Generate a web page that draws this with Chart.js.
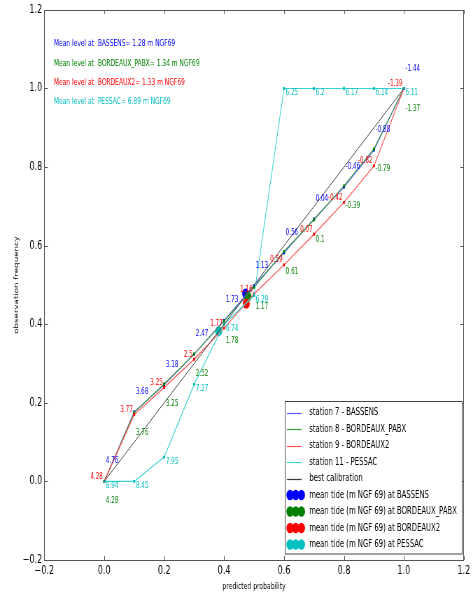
<!DOCTYPE html>
<html><head><meta charset="utf-8">
<script src="https://cdn.jsdelivr.net/npm/chart.js@4/dist/chart.umd.min.js"></script>
<style>
html,body{margin:0;padding:0;overflow:hidden;background:#fff;width:473px;height:593px;}
#wrap{position:absolute;left:0;top:0;width:676px;height:593px;transform:scaleX(0.6997);transform-origin:0 0;}
canvas{display:block;}
</style></head><body>
<div id="wrap"><canvas id="c" width="676" height="593" style="width:676px;height:593px"></canvas></div>
<script>
// ---------- data ----------
const probabilities = [0, 0.1, 0.2, 0.3, 0.4, 0.5, 0.6, 0.7, 0.8, 0.9, 1.0];
const bassensFreq  = [0, 0.177, 0.246, 0.324, 0.41, 0.498, 0.582, 0.668, 0.749, 0.843, 1.0];
const pabxFreq     = [0, 0.175, 0.248, 0.324, 0.408, 0.494, 0.585, 0.666, 0.752, 0.846, 1.0];
const bordeaux2Freq= [0, 0.17, 0.239, 0.311, 0.39, 0.477, 0.551, 0.629, 0.71, 0.803, 1.0];
const pessacFreq   = [0, 0, 0.062, 0.247, 0.40, 0.473, 1.0, 1.0, 1.0, 1.0, 1.0];
const bassensLevels  = ['4.76','3.68','3.18','2.47','1.73','1.13','0.56','0.04','-0.46','-0.88','-1.44'];
const pabxLevels     = ['4.28','3.76','3.25','2.52','1.78','1.17','0.61','0.1','-0.39','-0.79','-1.37'];
const bordeaux2Levels= ['4.28','3.77','3.25','2.5','1.77','1.16','0.59','0.07','-0.42','-0.82','-1.39'];
const pessacLevels   = ['8.94','8.45','7.95','7.27','6.74','6.29','6.25','6.2','6.17','6.14','6.11'];
const calibProb = [0, 1];
const calibFreq = [0, 1];
const stationNames = ['BASSENS', 'BORDEAUX_PABX', 'BORDEAUX2', 'PESSAC'];
const stationNumbers = [7, 8, 9, 11];
const meanLevels = ['1.28', '1.34', '1.33', '6.89'];
const meanProb = [0.472, 0.48, 0.474, 0.382];
const meanFreq = [0.478, 0.47, 0.452, 0.382];
const xTicks = [-0.2, 0, 0.2, 0.4, 0.6, 0.8, 1.0, 1.2];
const yTicks = [-0.2, 0, 0.2, 0.4, 0.6, 0.8, 1.0, 1.2];

// ---------- styles ----------
const colors = ['#0000ff', '#008000', '#ff0000', '#00bfbf'];
const lineColors = ['#5a5aff', '#3a9a3a', '#ff4d4d', '#3fd2d2'];
const FONT = "'DejaVu Sans', sans-serif";
const labelOffsets = [
  {dx: 2.4, dy: -20, align: 'left'},
  {dx: 2.4, dy: 20, align: 'left'},
  {dx: -2, dy: -4.5, align: 'right'},
  {dx: 2.4, dy: 4.5, align: 'left'}
];

const freqs = [bassensFreq, pabxFreq, bordeaux2Freq, pessacFreq];
const levels = [bassensLevels, pabxLevels, bordeaux2Levels, pessacLevels];

const datasets = [];
datasets.push({
  label: 'best calibration', kind: 'line',
  data: calibProb.map((x, i) => ({x, y: calibFreq[i]})),
  showLine: true, borderColor: '#3a3a3a', backgroundColor: '#000000',
  borderWidth: 1, pointRadius: 0, order: 0
});
for (let s = 0; s < 4; s++) {
  datasets.push({
    label: 'station ' + stationNumbers[s] + ' - ' + stationNames[s], kind: 'line', station: s,
    data: probabilities.map((x, i) => ({x, y: freqs[s][i]})),
    showLine: true, borderColor: lineColors[s], backgroundColor: colors[s],
    borderWidth: 1.1, pointStyle: 'rect', pointRadius: 2, pointBorderWidth: 0,
    order: 1 + (3 - s)
  });
}
for (let s = 0; s < 4; s++) {
  datasets.push({
    label: 'mean tide (m NGF 69) at ' + stationNames[s], kind: 'mean', station: s,
    data: [{x: meanProb[s], y: meanFreq[s]}],
    showLine: false, borderColor: colors[s], backgroundColor: colors[s],
    pointStyle: 'circle', pointRadius: 5, borderWidth: 0,
    order: 10 + (3 - s)
  });
}

const fmt = v => { if (Math.abs(v) < 1e-9) v = 0; return (v < 0 ? '\u2212' : '') + Math.abs(v).toFixed(1); };

const extras = {
  id: 'extras',
  afterDatasetsDraw(chart) {
    const ctx = chart.ctx, xs = chart.scales.x, ys = chart.scales.y;
    ctx.save();
    ctx.font = '8px ' + FONT;
    ctx.textBaseline = 'middle';
    for (let s = 0; s < 4; s++) {
      const o = labelOffsets[s];
      ctx.fillStyle = colors[s];
      ctx.textAlign = o.align;
      probabilities.forEach((p, i) => {
        ctx.fillText(levels[s][i], xs.getPixelForValue(p) + o.dx, ys.getPixelForValue(freqs[s][i]) + o.dy);
      });
    }
    ctx.restore();
  },
  afterDraw(chart) {
    const ctx = chart.ctx, a = chart.chartArea, xs = chart.scales.x, ys = chart.scales.y;
    ctx.save();
    // frame
    ctx.strokeStyle = '#555';
    ctx.lineWidth = 1;
    ctx.strokeRect(Math.round(a.left) + 0.5, Math.round(a.top) + 0.5, Math.round(a.right - a.left) - 1, Math.round(a.bottom - a.top));
    // inner ticks
    ctx.beginPath();
    xTicks.forEach(v => {
      const px = Math.round(xs.getPixelForValue(v)) + 0.5;
      ctx.moveTo(px, a.top); ctx.lineTo(px, a.top + 4);
      ctx.moveTo(px, a.bottom); ctx.lineTo(px, a.bottom - 4);
    });
    yTicks.forEach(v => {
      const py = Math.round(ys.getPixelForValue(v)) + 0.5;
      ctx.moveTo(a.left, py); ctx.lineTo(a.left + 5, py);
      ctx.moveTo(a.right, py); ctx.lineTo(a.right - 5, py);
    });
    ctx.stroke();
    // mean level annotations
    ctx.font = '8.5px ' + FONT;
    ctx.textAlign = 'left';
    ctx.textBaseline = 'middle';
    const annY = [44, 63.3, 82.7, 101.7];
    for (let s = 0; s < 4; s++) {
      ctx.fillStyle = colors[s];
      ctx.fillText('Mean level at  ' + stationNames[s] + '= ' + meanLevels[s] + ' m NGF69', 77, annY[s]);
    }
    // legend
    const lx = 407.5, ly = 401.5, lw = 253, lh = 152.5;
    ctx.fillStyle = '#fff';
    ctx.fillRect(lx, ly, lw, lh);
    ctx.strokeStyle = '#444';
    ctx.strokeRect(lx, ly, lw, lh);
    ctx.font = '9.8px ' + FONT;
    ctx.fillStyle = '#000';
    const lineItems = [1, 2, 3, 4, 0].map(i => chart.data.datasets[i]);
    const meanItems = [5, 6, 7, 8].map(i => chart.data.datasets[i]);
    let y = 412.5;
    lineItems.forEach(d => {
      ctx.strokeStyle = d.borderColor;
      ctx.lineWidth = 1.2;
      ctx.beginPath(); ctx.moveTo(410, Math.round(y) + 0.5); ctx.lineTo(431, Math.round(y) + 0.5); ctx.stroke();
      ctx.fillStyle = '#000';
      ctx.fillText(d.label, 442, y);
      y += 16.5;
    });
    meanItems.forEach(d => {
      ctx.fillStyle = d.backgroundColor;
      [414.5, 422.6, 430.7].forEach(cx => { ctx.beginPath(); ctx.arc(cx, y, 5.2, 0, Math.PI * 2); ctx.fill(); });
      ctx.fillStyle = '#000';
      ctx.fillText(d.label, 442, y);
      y += 16.5;
    });
    ctx.restore();
  }
};

new Chart(document.getElementById('c'), {
  type: 'scatter',
  data: {datasets},
  options: {
    responsive: false, animation: false, devicePixelRatio: 1,
    layout: {padding: {top: 6.7, right: 11.7, left: 0, bottom: 0}},
    plugins: {legend: {display: false}, tooltip: {enabled: false}},
    elements: {line: {tension: 0}},
    scales: {
      x: {
        type: 'linear', min: -0.2, max: 1.2,
        afterBuildTicks: s => { s.ticks = xTicks.map(v => ({value: v})); },
        ticks: {callback: fmt, color: '#000', font: {family: FONT, size: 11.5}, padding: 4, maxRotation: 0, autoSkip: false},
        grid: {display: false, drawTicks: false}, border: {display: false},
        title: {display: true, text: 'predicted probability', color: '#000', font: {family: FONT, size: 8.7}, padding: {top: 1, bottom: 1}},
        afterFit: s => { s.height = 33; }
      },
      y: {
        type: 'linear', min: -0.2, max: 1.2,
        afterBuildTicks: s => { s.ticks = yTicks.map(v => ({value: v})); },
        ticks: {callback: fmt, color: '#000', font: {family: FONT, size: 11.5}, padding: 3, autoSkip: false},
        grid: {display: false, drawTicks: false}, border: {display: false},
        title: {display: true, text: 'observation frequency', color: '#000', font: {family: FONT, size: 8.7}, padding: {top: 19, bottom: 0}},
        afterFit: s => { s.width = 63.3; }
      }
    }
  },
  plugins: [extras]
});
</script>
</body></html>
